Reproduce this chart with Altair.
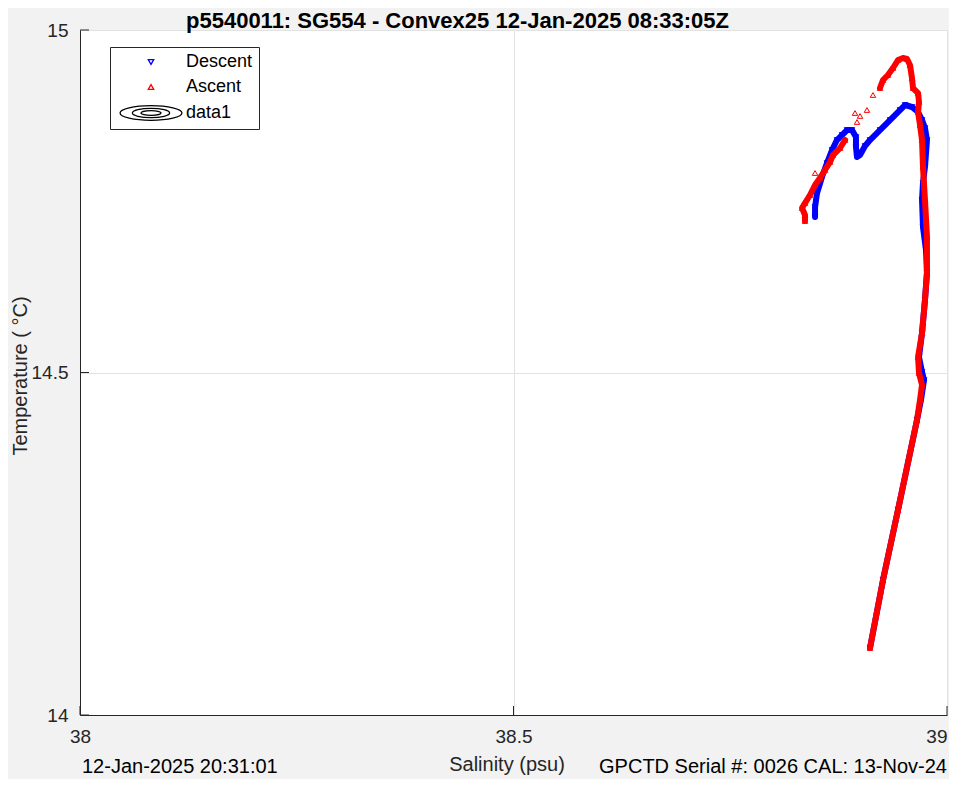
import altair as alt
import pandas as pd

TITLE = "p5540011: SG554 - Convex25 12-Jan-2025 08:33:05Z"
X_TITLE = "Salinity (psu)"
Y_TITLE = "Temperature (     \u00b0C)"
FOOT_LEFT = "12-Jan-2025 20:31:01"
FOOT_RIGHT = "GPCTD Serial #: 0026 CAL: 13-Nov-24"

x_ticks = [38, 38.5, 39]
y_ticks = [14, 14.5, 15]
series_names = ["Descent", "Ascent", "data1"]
series_colors = ["#0000ff", "#ff0000", "#000000"]

# Descent profile (surface end -> deepest point)
descent_salinity = [38.8478, 38.8478, 38.8501, 38.8558, 38.8616, 38.8674, 38.8731, 38.8789,
                    38.8847, 38.8904, 38.8950, 38.8950, 38.8962, 38.8997, 38.9054, 38.9112,
                    38.9227, 38.9343, 38.9458, 38.9516, 38.9596, 38.9666, 38.9712, 38.9746,
                    38.9769, 38.9746, 38.9723, 38.9712, 38.9723, 38.9758, 38.9769, 38.9746,
                    38.9712, 38.9677, 38.9712, 38.9735, 38.9700, 38.9654, 38.9435, 38.9262,
                    38.9112]
descent_temperature = [14.7270, 14.7416, 14.7620, 14.7854, 14.8058, 14.8248, 14.8394, 14.8467,
                       14.8540, 14.8540, 14.8438, 14.8292, 14.8146, 14.8175, 14.8307, 14.8394,
                       14.8540, 14.8686, 14.8832, 14.8905, 14.8876, 14.8803, 14.8686, 14.8569,
                       14.8394, 14.8000, 14.7766, 14.7518, 14.7124, 14.6788, 14.6453, 14.6058,
                       14.5577, 14.5226, 14.5007, 14.4891, 14.4599, 14.4307, 14.2993, 14.1971,
                       14.0978]

# Ascent profile (deepest point -> surface end); segment 0 = isolated samples
ascent_salinity = [38.9112, 38.9262, 38.9435, 38.9654, 38.9689, 38.9712, 38.9677, 38.9666,
                   38.9712, 38.9746, 38.9769, 38.9769, 38.9746, 38.9723, 38.9712, 38.9689,
                   38.9666, 38.9677, 38.9666, 38.9608, 38.9596, 38.9573, 38.9539, 38.9493,
                   38.9435, 38.9377, 38.9319, 38.9262, 38.9227,
                   38.9146, 38.9077, 38.8939, 38.8997, 38.8962, 38.8478,
                   38.8824, 38.8766, 38.8685, 38.8651, 38.8593, 38.8535, 38.8478, 38.8420,
                   38.8362, 38.8328, 38.8362, 38.8362]
ascent_temperature = [14.0978, 14.1971, 14.2993, 14.4307, 14.4599, 14.4818, 14.4993, 14.5226,
                      14.5577, 14.6058, 14.6453, 14.6990, 14.7518, 14.8000, 14.8394, 14.8613,
                      14.8803, 14.8949, 14.9080, 14.9153, 14.9299, 14.9489, 14.9577, 14.9591,
                      14.9562, 14.9445, 14.9343, 14.9270, 14.9153,
                      14.9051, 14.8832, 14.8788, 14.8745, 14.8657, 14.7912,
                      14.8394, 14.8277, 14.8175, 14.8073, 14.7956, 14.7839, 14.7737, 14.7591,
                      14.7474, 14.7401, 14.7299, 14.7212]
ascent_segment = [1] * 29 + [0] * 6 + [2] * 12

desc_df = pd.DataFrame({"S": descent_salinity, "T": descent_temperature,
                        "i": list(range(len(descent_salinity))), "phase": "Descent", "seg": 1})
asc_df = pd.DataFrame({"S": ascent_salinity, "T": ascent_temperature,
                       "i": list(range(len(ascent_salinity))), "phase": "Ascent",
                       "seg": ascent_segment})

FONT = "Liberation Sans"
INK = "#262626"

xs = alt.Scale(domain=[38, 39], nice=False, zero=False)
ys = alt.Scale(domain=[14, 15], nice=False, zero=False)

x_axis = alt.Axis(values=x_ticks, format="~g", title=None, labelFontSize=19, labelFont=FONT,
                  labelColor=INK, domainColor=INK, ticks=False, labelPadding=12,
                  labelFlush=False, grid=True, gridColor="#e2e2e2",
                  labelAlign=alt.ExprRef(expr="datum.value >= 39 ? 'right' : 'center'"))
y_axis = alt.Axis(values=y_ticks, format="~g", title=None, labelFontSize=19, labelFont=FONT,
                  labelColor=INK, domainColor=INK, ticks=False, labelPadding=12,
                  labelFlush=False, grid=True, gridColor="#e2e2e2")

X = alt.X("S:Q", scale=xs, axis=x_axis, title=None)
Y = alt.Y("T:Q", scale=ys, axis=y_axis, title=None)

ellipse = ("M-11.3,0A11.3,2.66,0,1,0,11.3,0A11.3,2.66,0,1,0,-11.3,0Z"
           "M-6.8,0A6.8,1.7,0,1,0,6.8,0A6.8,1.7,0,1,0,-6.8,0Z"
           "M-3.65,0A3.65,0.84,0,1,0,3.65,0A3.65,0.84,0,1,0,-3.65,0Z")

color_scale = alt.Scale(domain=series_names, range=series_colors)
shape_scale = alt.Scale(domain=series_names, range=["triangle-down", "triangle-up", ellipse])
legend = alt.Legend(title=None, orient="none", legendX=30, legendY=17, fillColor="white",
                    strokeColor=INK, padding=6, rowPadding=7, symbolOffset=26, labelOffset=26,
                    labelFontSize=18, labelFont=FONT, labelColor="black", symbolSize=30,
                    symbolStrokeWidth=1.3, cornerRadius=0)

line_desc = alt.Chart(desc_df).mark_line(color="#0000ff", strokeWidth=6, strokeCap="round",
                                         strokeJoin="round").encode(x=X, y=Y, order="i:Q")
pts_desc = alt.Chart(desc_df).mark_point(filled=False, size=30, strokeWidth=1, opacity=1).encode(
    x=X, y=Y,
    color=alt.Color("phase:N", scale=color_scale, legend=legend),
    shape=alt.Shape("phase:N", scale=shape_scale, legend=legend),
    order="i:Q",
)
line_asc = alt.Chart(asc_df).transform_filter("datum.seg > 0").mark_line(
    color="#ff0000", strokeWidth=6, strokeCap="round", strokeJoin="round").encode(
    x=X, y=Y, detail="seg:N", order="i:Q")
pts_asc = alt.Chart(asc_df).mark_point(filled=False, size=30, strokeWidth=1, opacity=1).encode(
    x=X, y=Y,
    color=alt.Color("phase:N", scale=color_scale, legend=legend),
    shape=alt.Shape("phase:N", scale=shape_scale, legend=legend),
    order="i:Q",
)

# inward MATLAB-style ticks
xt_df = pd.DataFrame({"S": x_ticks})
yt_df = pd.DataFrame({"T": y_ticks})
xticks = alt.Chart(xt_df).mark_rule(color=INK, strokeWidth=1).encode(
    x=X, y=alt.value(685), y2=alt.value(676))
yticks = alt.Chart(yt_df).mark_rule(color=INK, strokeWidth=1).encode(
    y=Y, x=alt.value(0), x2=alt.value(9))


def label(txt, x, y, size, align="center", baseline="alphabetic", bold=False, angle=0,
          color=INK):
    return alt.Chart(pd.DataFrame({"t": [txt]})).mark_text(
        font=FONT, fontSize=size, align=align, baseline=baseline, angle=angle,
        fontWeight="bold" if bold else "normal", color=color).encode(
        text="t:N", x=alt.value(x), y=alt.value(y))


title = label(TITLE, 377.5, -2, 22, bold=True, color="black")
xtitle = label(X_TITLE, 427, 735, 20, baseline="middle")
ytitle = label(Y_TITLE, -59, 346, 20, baseline="middle", angle=270)
foot_l = label(FOOT_LEFT, 2, 743, 20, align="left", color="black")
foot_r = label(FOOT_RIGHT, 867, 743, 20, align="right", color="black")

chart = alt.layer(line_desc, pts_desc, line_asc, pts_asc, xticks, yticks,
                  title, xtitle, ytitle, foot_l, foot_r).properties(
    width=867, height=685,
    padding={"left": 72, "top": 22, "right": 2, "bottom": 64},
    autosize=alt.AutoSizeParams(type="none"),
).configure(background="#f2f2f2").configure_view(fill="white", stroke="#dcdcdc", strokeWidth=1)

chart.save("out.html", embed_options={"renderer": "svg", "actions": False})
